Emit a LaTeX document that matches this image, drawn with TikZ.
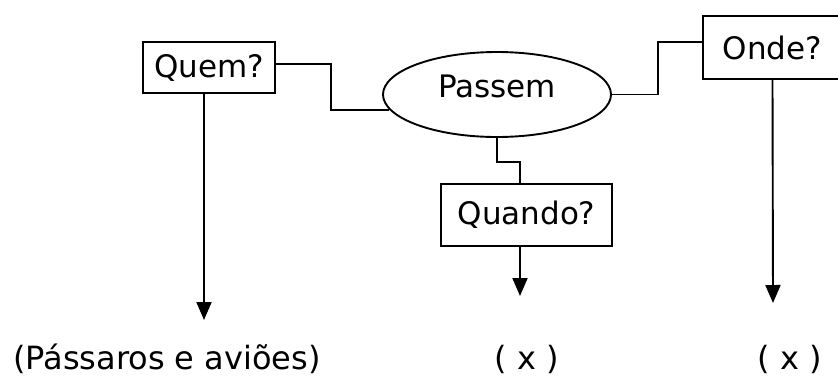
\documentclass[tikz,border=0pt]{standalone}
\usepackage{fontspec}
\setmainfont{DejaVu Sans}
\usetikzlibrary{shapes.geometric,arrows.meta}
\begin{document}
\begin{tikzpicture}[x=1pt,y=-1pt,
  every node/.style={font=\fontsize{31}{37}\selectfont},
  line/.style={line width=1.9pt},
  arr/.style={line width=1.9pt,-{Triangle[width=15pt,length=18pt]}},
  qbox/.style={draw,line width=1.9pt,rectangle,inner sep=0pt},
  lbl/.style={anchor=base,inner sep=0pt,font=\fontsize{32}{37}\selectfont}]
\useasboundingbox (0,0) rectangle (838,381);
\node[qbox,minimum width=132pt,minimum height=51pt] (quem) at (209,67.5) {Quem?};
\node[draw,line width=1.9pt,ellipse,inner sep=0pt,minimum width=228pt,minimum height=85pt,text depth=16pt] (pas) at (497,94.5) {Passem};
\node[qbox,minimum width=139pt,minimum height=63pt] (onde) at (772.5,47.5) {Onde?};
\node[qbox,minimum width=171pt,minimum height=62pt] (quando) at (526.5,215) {Quando?};
\coordinate (tq) at (204,320);
\coordinate (tw) at (520,296);
\coordinate (to) at (773,303);
\node[lbl,anchor=base west] (lq) at (13,369) {(Pássaros e aviões)};
\node[lbl] (lw) at (526.5,369) {( x )};
\node[lbl] (lo) at (790,369) {( x )};
\draw[line] ([yshift=3.5pt]quem.east) -- ++(55,0) |- (pas.188);
\draw[line] (pas.east) -- ++(46,0) |- ([yshift=5.5pt]onde.west);
\draw[line] (pas.south) -- ++(0,24) -| ([xshift=-6.5pt]quando.north);
\draw[arr] ([xshift=-5pt]quem.south) -- (tq);
\draw[arr] ([xshift=-6.5pt]quando.south) -- (tw);
\draw[arr] (onde.south) -- (to);
\end{tikzpicture}
\end{document}
